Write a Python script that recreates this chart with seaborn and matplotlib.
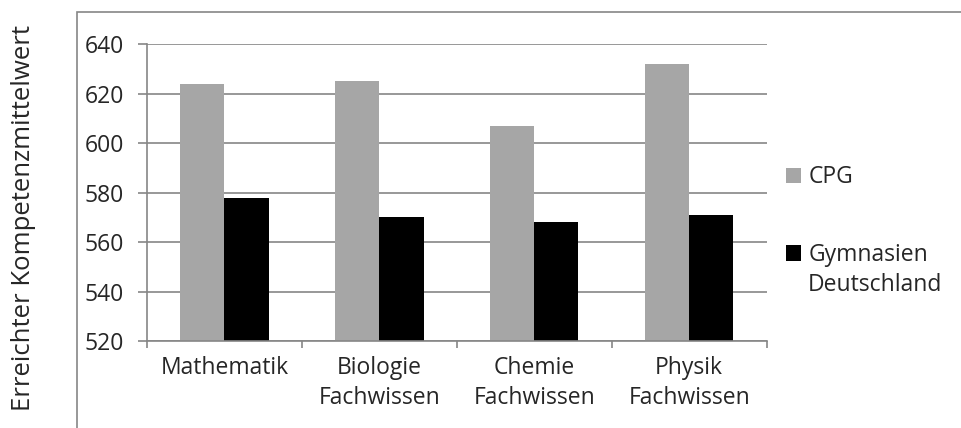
import matplotlib
matplotlib.use("Agg")
import matplotlib.pyplot as plt
import matplotlib.patches as mpatches
import seaborn as sns
import pandas as pd

# =====================
# DATA
# =====================
categories = ["Mathematik", "Biologie\nFachwissen", "Chemie\nFachwissen", "Physik\nFachwissen"]
cpg = [624, 625, 607, 632]
gymnasien = [578, 570, 568, 571]
series_names = ["CPG", "Gymnasien Deutschland"]
y_ticks = [520, 540, 560, 580, 600, 620, 640]
y_label = "Erreichter Kompetenzmittelwert"

df = pd.DataFrame({
    "Fach": categories * 2,
    "Wert": cpg + gymnasien,
    "Gruppe": [series_names[0]] * len(categories) + [series_names[1]] * len(categories),
})

# =====================
# STYLE
# =====================
sns.set_style("white")
plt.rcParams["font.family"] = ["Open Sans", "DejaVu Sans"]
grid_col = "#868686"
fs = 16.5

fig = plt.figure(figsize=(9.62, 4.28), dpi=100)
ax = fig.add_axes([0.1528, 0.203, 0.797 - 0.1528, 0.897 - 0.203])

sns.barplot(
    data=df, x="Fach", y="Wert", hue="Gruppe",
    palette={series_names[0]: "#A6A6A6", series_names[1]: "#000000"},
    width=0.57, gap=0, saturation=1, linewidth=0, ax=ax, legend=True,
)

ax.set_ylim(y_ticks[0], y_ticks[-1])
ax.set_xlim(-0.5, len(categories) - 0.5)
ax.set_yticks(y_ticks)
ax.yaxis.grid(True, color=grid_col, linewidth=1.2)
ax.set_axisbelow(True)
ax.set_xlabel("")
ax.set_ylabel("")

for s in ["top", "right"]:
    ax.spines[s].set_visible(False)
for s in ["left", "bottom"]:
    ax.spines[s].set_color(grid_col)
    ax.spines[s].set_linewidth(1.2)

ax.tick_params(axis="y", direction="out", length=6.5, width=1.2, color=grid_col,
               pad=10, labelsize=fs, left=True)
ax.set_xticks(range(len(categories)))
ax.set_xticklabels(categories, fontsize=fs, linespacing=1.3)
ax.tick_params(axis="x", length=0, pad=11)
ax.set_xticks([i - 0.5 for i in range(len(categories) + 1)], minor=True)
ax.tick_params(axis="x", which="minor", direction="out", length=5, width=1.2,
               color=grid_col, bottom=True)

# legend: handle sits beside the first line of the label, as in the original
handles, labels = ax.get_legend_handles_labels()
ax.get_legend().remove()
first_lines = [lbl.split(" ")[0] for lbl in labels]
leg = fig.legend(handles, first_lines, loc="upper left", bbox_to_anchor=(0.796, 0.662),
                 frameon=False, fontsize=fs, handlelength=0.65, handleheight=0.65,
                 handletextpad=0.3, labelspacing=2.35)
fig.canvas.draw()
bb = leg.get_texts()[1].get_window_extent().transformed(fig.transFigure.inverted())
rest = " ".join(labels[1].split(" ")[1:])
fig.text(bb.x0, bb.y0 - 30 / 428, rest, fontsize=fs, ha="left", va="bottom")

fig.text(0.024, 0.49, y_label, rotation=90, va="center", ha="center", fontsize=18.5)

# outer chart frame
fig.patches.append(mpatches.Rectangle((77 / 962, -0.1), 2, 1 - 12 / 428 + 0.1,
                                      transform=fig.transFigure, fill=False,
                                      edgecolor=grid_col, linewidth=1.2))

fig.savefig("out.png", dpi=100)
